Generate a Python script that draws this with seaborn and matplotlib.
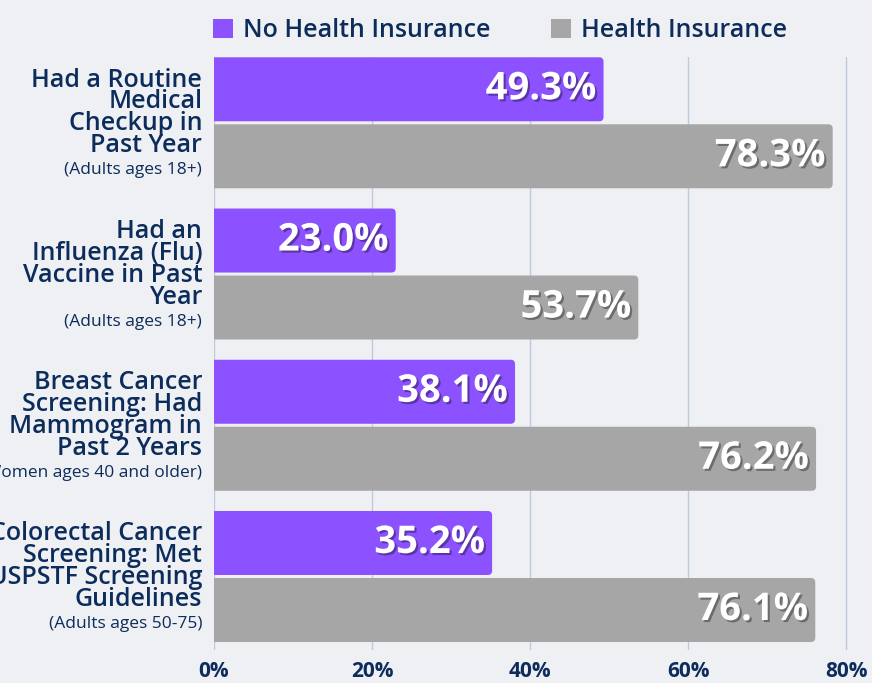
import matplotlib
matplotlib.use("Agg")
import matplotlib.pyplot as plt
import matplotlib.patheffects as pe
from matplotlib.patches import FancyBboxPatch, Patch
import pandas as pd
import seaborn as sns

# Chart data
categories = [
    "Had a Routine\nMedical\nCheckup in\nPast Year",
    "Had an\nInfluenza (Flu)\nVaccine in Past\nYear",
    "Breast Cancer\nScreening: Had\nMammogram in\nPast 2 Years",
    "Colorectal Cancer\nScreening: Met\nUSPSTF Screening\nGuidelines",
]
subtitles = [
    "(Adults ages 18+)",
    "(Adults ages 18+)",
    "(Women ages 40 and older)",
    "(Adults ages 50-75)",
]
series = ["No Health Insurance", "Health Insurance"]
no_insurance = [49.3, 23.0, 38.1, 35.2]
insurance = [78.3, 53.7, 76.2, 76.1]
xticks = [0, 20, 40, 60, 80]

bg = "#eff0f3"
navy = "#0c2c5c"
colors = {"No Health Insurance": "#8c52ff", "Health Insurance": "#a6a6a6"}

df = pd.DataFrame({
    "category": categories * 2,
    "series": [series[0]] * 4 + [series[1]] * 4,
    "value": no_insurance + insurance,
})

sns.set_theme(style="white")
plt.rcParams["font.family"] = ["Open Sans", "DejaVu Sans"]

W, H = 872, 683
fig = plt.figure(figsize=(W / 100, H / 100), dpi=100, facecolor=bg)
ax = fig.add_axes([214 / W, 1 - 650 / H, (854 - 214) / W, (650 - 57) / H])
ax.set_facecolor(bg)

sns.barplot(data=df, y="category", x="value", hue="series", orient="h",
            palette=colors, saturation=1, width=0.886, legend=False, ax=ax)

ax.set_xlim(0, 81)
ax.set_ylim(3.486, -0.435)

# swap plain bars for rounded ones with a small gap
x_px = ax.transData.transform((1, 0))[0] - ax.transData.transform((0, 0))[0]
y_px = abs(ax.transData.transform((0, 1))[1] - ax.transData.transform((0, 0))[1])
gap = 1.5 / y_px
bars = list(ax.patches)
for p in bars:
    x0, y0, w, h = p.get_x(), p.get_y(), p.get_width(), p.get_height()
    fc = p.get_facecolor()
    p.remove()
    rb = FancyBboxPatch((x0 - 2, y0 + gap), w + 2, h - 2 * gap,
                        boxstyle="round,pad=0,rounding_size=0.55",
                        mutation_aspect=x_px / y_px,
                        facecolor=fc, edgecolor="none", zorder=2)
    ax.add_patch(rb)
    ax.text(x0 + w - 0.9, y0 + h / 2, f"{w:.1f}%", ha="right", va="center",
            color="white", fontsize=27.5, fontweight="bold", zorder=3,
            path_effects=[pe.SimplePatchShadow(offset=(1.5, -1.5), alpha=0.35,
                                               shadow_rgbFace="black"),
                          pe.Normal()])

# category labels on the left
for i, (cat, sub) in enumerate(zip(categories, subtitles)):
    ax.text(-1.5, i - 0.065, cat, ha="right", va="center", color=navy,
            fontsize=18, fontweight="semibold", linespacing=0.84, clip_on=False)
    ax.text(-1.5, i + 0.315, sub, ha="right", va="center", color=navy,
            fontsize=12.5, clip_on=False)

ax.grid(axis="x", color="#bccbdb", linewidth=1)
ax.set_axisbelow(True)
for s in ax.spines.values():
    s.set_visible(False)
ax.set_xticks(xticks)
ax.set_xticklabels([f"{t}%" for t in xticks], fontweight="bold")
ax.tick_params(axis="x", length=0, pad=8, labelsize=15, labelcolor=navy)
ax.set_yticks([])
ax.set_xlabel("")
ax.set_ylabel("")

handles = [Patch(facecolor=colors[s], edgecolor="none") for s in series]
fig.legend(handles, series, loc="upper center", bbox_to_anchor=(500 / W, 1 + 4 / H),
           ncol=2, frameon=False, handlelength=0.8, handleheight=0.8,
           columnspacing=2.4, handletextpad=0.4, labelcolor=navy,
           prop={"weight": "semibold", "size": 18})

fig.savefig("out.png", dpi=100, facecolor=bg)
